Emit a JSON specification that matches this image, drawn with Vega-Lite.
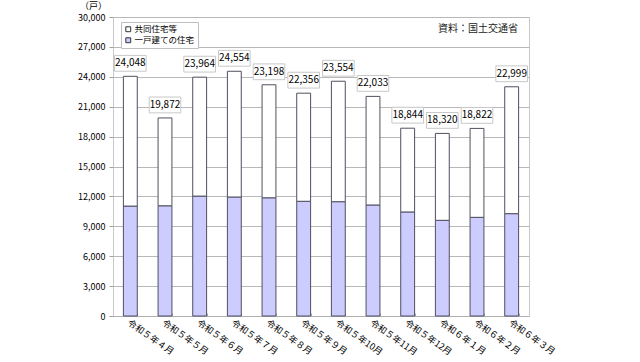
{
  "$schema": "https://vega.github.io/schema/vega-lite/v6.json",
  "width": 416,
  "height": 299,
  "autosize": {"type": "none"},
  "padding": {"left": 113, "top": 17, "right": 111, "bottom": 46},
  "background": "#ffffff",
  "config": {
    "font": "Noto Sans CJK JP",
    "view": {"stroke": "#c8c8c8", "strokeWidth": 1},
    "axis": {"labelFont": "Noto Sans CJK JP", "labelColor": "#000000", "domainColor": "#a0a0a0", "tickColor": "#a0a0a0"},
    "axisY": {"grid": true, "gridColor": "#b8b8b8", "gridOpacity": 1}
  },
  "title": {
    "text": "資料：国土交通省",
    "anchor": "end",
    "orient": "top",
    "offset": -33,
    "baseline": "top",
    "dx": -38,
    "fontSize": 10,
    "fontWeight": "normal",
    "color": "#222222",
    "font": "Noto Sans CJK JP"
  },
  "datasets": {
    "segments": [
      {"month": "令和５年４月", "type": "一戸建ての住宅", "value": 11030, "ord": 1},
      {"month": "令和５年４月", "type": "共同住宅等", "value": 13018, "ord": 2},
      {"month": "令和５年５月", "type": "一戸建ての住宅", "value": 11060, "ord": 1},
      {"month": "令和５年５月", "type": "共同住宅等", "value": 8812, "ord": 2},
      {"month": "令和５年６月", "type": "一戸建ての住宅", "value": 12030, "ord": 1},
      {"month": "令和５年６月", "type": "共同住宅等", "value": 11934, "ord": 2},
      {"month": "令和５年７月", "type": "一戸建ての住宅", "value": 11940, "ord": 1},
      {"month": "令和５年７月", "type": "共同住宅等", "value": 12614, "ord": 2},
      {"month": "令和５年８月", "type": "一戸建ての住宅", "value": 11860, "ord": 1},
      {"month": "令和５年８月", "type": "共同住宅等", "value": 11338, "ord": 2},
      {"month": "令和５年９月", "type": "一戸建ての住宅", "value": 11510, "ord": 1},
      {"month": "令和５年９月", "type": "共同住宅等", "value": 10846, "ord": 2},
      {"month": "令和５年10月", "type": "一戸建ての住宅", "value": 11470, "ord": 1},
      {"month": "令和５年10月", "type": "共同住宅等", "value": 12084, "ord": 2},
      {"month": "令和５年11月", "type": "一戸建ての住宅", "value": 11140, "ord": 1},
      {"month": "令和５年11月", "type": "共同住宅等", "value": 10893, "ord": 2},
      {"month": "令和５年12月", "type": "一戸建ての住宅", "value": 10440, "ord": 1},
      {"month": "令和５年12月", "type": "共同住宅等", "value": 8404, "ord": 2},
      {"month": "令和６年１月", "type": "一戸建ての住宅", "value": 9600, "ord": 1},
      {"month": "令和６年１月", "type": "共同住宅等", "value": 8720, "ord": 2},
      {"month": "令和６年２月", "type": "一戸建ての住宅", "value": 9900, "ord": 1},
      {"month": "令和６年２月", "type": "共同住宅等", "value": 8922, "ord": 2},
      {"month": "令和６年３月", "type": "一戸建ての住宅", "value": 10270, "ord": 1},
      {"month": "令和６年３月", "type": "共同住宅等", "value": 12729, "ord": 2}
    ],
    "totals": [
      {"month": "令和５年４月", "value": 24048},
      {"month": "令和５年５月", "value": 19872},
      {"month": "令和５年６月", "value": 23964},
      {"month": "令和５年７月", "value": 24554},
      {"month": "令和５年８月", "value": 23198},
      {"month": "令和５年９月", "value": 22356},
      {"month": "令和５年10月", "value": 23554},
      {"month": "令和５年11月", "value": 22033},
      {"month": "令和５年12月", "value": 18844},
      {"month": "令和６年１月", "value": 18320},
      {"month": "令和６年２月", "value": 18822},
      {"month": "令和６年３月", "value": 22999}
    ]
  },
  "encoding": {
    "x": {
      "field": "month",
      "type": "nominal",
      "sort": null,
      "scale": {"paddingInner": 0.6, "paddingOuter": 0.3},
      "axis": {
        "title": null,
        "labelAngle": 35,
        "labelAlign": "left",
        "labelBaseline": "top",
        "labelFontSize": 9,
        "labelPadding": 5,
        "tickBand": "extent",
        "tickSize": -3,
        "domainColor": "#b0b0b0",
        "tickColor": "#b0b0b0"
      }
    },
    "y": {
      "field": "value",
      "type": "quantitative",
      "scale": {"domain": [0, 30000], "nice": false},
      "axis": {
        "title": "（戸）",
        "titleAngle": 0,
        "titleAlign": "center",
        "titleBaseline": "middle",
        "titleX": -20,
        "titleY": -12,
        "titleFontSize": 9,
        "titleFontWeight": "normal",
        "titleFont": "Noto Sans CJK JP",
        "values": [0, 3000, 6000, 9000, 12000, 15000, 18000, 21000, 24000, 27000, 30000],
        "format": ",d",
        "labelOverlap": false,
        "labelFontSize": 9,
        "labelPadding": 4,
        "tickSize": 4,
        "domain": false,
        "tickColor": "#a0a0a0"
      }
    }
  },
  "layer": [
    {
      "data": {"name": "segments"},
      "mark": {"type": "bar", "stroke": "#505060", "strokeWidth": 1},
      "encoding": {
        "color": {
          "field": "type",
          "type": "nominal",
          "scale": {"domain": ["共同住宅等", "一戸建ての住宅"], "range": ["#ffffff", "#ccccff"]},
          "legend": {
            "title": null,
            "orient": "none",
            "legendX": 8,
            "legendY": 5,
            "symbolType": "square",
            "symbolSize": 24,
            "symbolStrokeColor": "#333333",
            "symbolStrokeWidth": 1,
            "labelFontSize": 8.5,
            "labelFont": "Noto Sans CJK JP",
            "rowPadding": 1,
            "padding": 3,
            "strokeColor": "#c0c0c0",
            "fillColor": "#ffffff",
            "labelOffset": 2
          }
        },
        "order": {"field": "ord", "type": "quantitative"}
      }
    },
    {
      "data": {"name": "totals"},
      "mark": {
        "type": "point",
        "shape": "M-1,-0.5L1,-0.5L1,0.5L-1,0.5Z",
        "size": 1000,
        "filled": true,
        "fill": "#ffffff",
        "stroke": "#c8c8c8",
        "strokeWidth": 1,
        "opacity": 1,
        "yOffset": -13
      },
      "encoding": {}
    },
    {
      "data": {"name": "totals"},
      "mark": {"type": "text", "fontSize": 10, "dy": -13, "color": "#000000", "baseline": "middle"},
      "encoding": {
        "text": {"field": "value", "type": "quantitative", "format": ","}
      }
    }
  ]
}
